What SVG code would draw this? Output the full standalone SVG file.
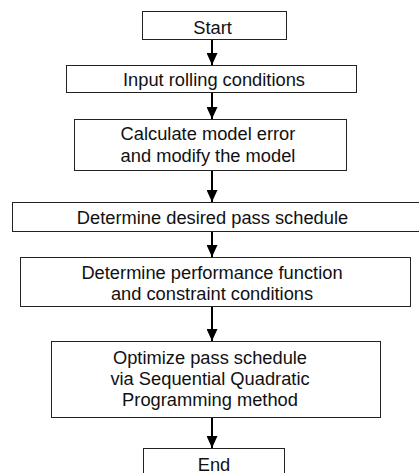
<svg xmlns="http://www.w3.org/2000/svg" width="419" height="473" viewBox="0 0 419 473">
<style>
.box{fill:#fff;stroke:#222;stroke-width:1}
.t{font-family:"Liberation Sans",Arial,sans-serif;font-size:18.3px;fill:#111;text-anchor:middle}
.c{stroke:#000;stroke-width:2;fill:none}
</style>
<defs>
<marker id="ah" viewBox="0 0 12 11" refX="12" refY="5.5" markerWidth="12" markerHeight="11" markerUnits="userSpaceOnUse" orient="auto">
<path d="M0,0 L12,5.5 L0,11 z" fill="#000"/>
</marker>
</defs>
<rect width="419" height="473" fill="#fff"/>
<g id="connectors">
<line class="c" x1="212" y1="39" x2="212" y2="65" marker-end="url(#ah)"/>
<line class="c" x1="212" y1="92" x2="212" y2="119" marker-end="url(#ah)"/>
<line class="c" x1="212" y1="170" x2="212" y2="202" marker-end="url(#ah)"/>
<line class="c" x1="212" y1="231" x2="212" y2="257" marker-end="url(#ah)"/>
<line class="c" x1="212" y1="307" x2="212" y2="341" marker-end="url(#ah)"/>
<line class="c" x1="212" y1="417" x2="212" y2="448" marker-end="url(#ah)"/>
</g>
<g id="start">
<rect class="box" x="142.5" y="11.5" width="144" height="28"/>
<text class="t" x="212.5" y="33.5">Start</text>
</g>
<g id="input">
<rect class="box" x="66.5" y="65.5" width="290" height="27"/>
<text class="t" x="214" y="86">Input rolling conditions</text>
</g>
<g id="calculate">
<rect class="box" x="74.5" y="119.5" width="272" height="51"/>
<text class="t" x="208" y="140">Calculate model error</text>
<text class="t" x="208" y="161.5">and modify the model</text>
</g>
<g id="desired">
<rect class="box" x="12.5" y="202.5" width="415" height="29"/>
<text class="t" x="212.5" y="224">Determine desired pass schedule</text>
</g>
<g id="performance">
<rect class="box" x="20.5" y="257.5" width="390" height="49"/>
<text class="t" x="212" y="278.5">Determine performance function</text>
<text class="t" x="212" y="300">and constraint conditions</text>
</g>
<g id="optimize">
<rect class="box" x="51.5" y="341.5" width="329" height="76"/>
<text class="t" x="210" y="364">Optimize pass schedule</text>
<text class="t" x="210" y="385">via Sequential Quadratic</text>
<text class="t" x="210" y="406">Programming method</text>
</g>
<g id="end">
<rect class="box" x="143.5" y="448.5" width="141" height="40"/>
<text class="t" x="214" y="470.5">End</text>
</g>
</svg>
